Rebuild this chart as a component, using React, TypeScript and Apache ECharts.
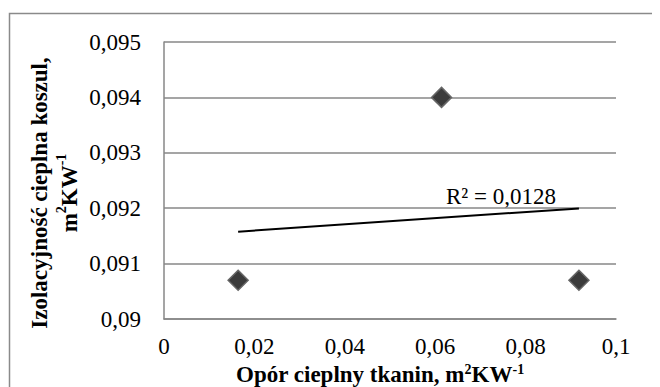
import React, { useEffect, useRef } from "react";
import * as echarts from "echarts";

const xValues = [0.0164, 0.0614, 0.0918];
const yValues = [0.0907, 0.094, 0.0907];
const r2Label = "R² = 0,0128";
const xTitle = "Opór cieplny tkanin, m{sup|2}KW{sup|-1}";
const yTitle = "Izolacyjność cieplna koszul,\nm{sup|2}KW{sup|-1}";

const FONT = "Liberation Serif";

function fmt(v: number): string {
  return String(Number(v.toFixed(4))).replace(".", ",");
}

function trend(xs: number[], ys: number[]): number[][] {
  const n = xs.length;
  const mx = xs.reduce((a, b) => a + b, 0) / n;
  const my = ys.reduce((a, b) => a + b, 0) / n;
  let sxy = 0;
  let sxx = 0;
  for (let i = 0; i < n; i++) {
    sxy += (xs[i] - mx) * (ys[i] - my);
    sxx += (xs[i] - mx) * (xs[i] - mx);
  }
  const b = sxy / sxx;
  const a = my - b * mx;
  const x0 = Math.min(...xs);
  const x1 = Math.max(...xs);
  return [
    [x0, a + b * x0],
    [x1, a + b * x1],
  ];
}

export default function App() {
  const ref = useRef<HTMLDivElement>(null);
  useEffect(() => {
    if (!ref.current) return;
    const chart = echarts.init(ref.current, undefined, { renderer: "svg" });
    const supStyle = {
      fontSize: 14,
      fontWeight: "bold" as const,
      fontFamily: FONT,
      color: "#000",
      verticalAlign: "top" as const,
      lineHeight: 14,
    };
    const gridColor = "#878787";
    const tickLabel = {
      color: "#000",
      fontFamily: FONT,
      fontSize: 23,
      fontWeight: "normal" as const,
      formatter: (v: number) => fmt(v),
    };
    chart.setOption({
      animation: false,
      textStyle: { fontFamily: FONT },
      grid: {
        left: 156,
        top: 34,
        width: 452,
        height: 277,
        containLabel: false,
        outerBoundsMode: "none",
      },
      xAxis: {
        type: "value",
        min: 0,
        max: 0.1,
        interval: 0.02,
        axisLine: { show: true, lineStyle: { color: gridColor, width: 1.5 } },
        axisTick: { show: false },
        splitLine: { show: false },
        axisLabel: { ...tickLabel, margin: 16 },
        name: xTitle,
        nameLocation: "middle",
        nameGap: 38,
        nameTextStyle: {
          fontFamily: FONT,
          fontWeight: "bold",
          fontSize: 23,
          color: "#000",
          padding: [0, 20, 0, 0],
          rich: { sup: supStyle },
        },
      },
      yAxis: {
        type: "value",
        min: 0.09,
        max: 0.095,
        interval: 0.001,
        axisLine: { show: true, lineStyle: { color: gridColor, width: 1.5 } },
        axisTick: { show: false },
        splitLine: { show: true, lineStyle: { color: gridColor, width: 1.5 } },
        axisLabel: { ...tickLabel, margin: 23 },
      },
      series: [
        {
          type: "line",
          data: trend(xValues, yValues),
          showSymbol: false,
          symbol: "none",
          lineStyle: { color: "#000", width: 2 },
          z: 2,
        },
        {
          type: "scatter",
          data: xValues.map((x, i) => [x, yValues[i]]),
          symbol: "diamond",
          symbolSize: 20,
          itemStyle: {
            color: "#3b3b3b",
            borderColor: "#666666",
            borderWidth: 1.5,
            opacity: 1,
          },
          z: 3,
        },
      ],
      graphic: [
        {
          type: "rect",
          silent: true,
          shape: { x: 1.5, y: 5.5, width: 800, height: 600 },
          style: { fill: "none", stroke: "#8a8a8a", lineWidth: 1.5 },
        },
        {
          type: "text",
          silent: true,
          x: 46,
          y: 185,
          rotation: Math.PI / 2,
          style: {
            text: yTitle,
            fontFamily: FONT,
            fontWeight: "bold",
            fontSize: 23,
            lineHeight: 30,
            fill: "#000",
            align: "center",
            verticalAlign: "middle",
            rich: {
              sup: {
                fontSize: 14,
                fontWeight: "bold",
                fontFamily: FONT,
                fill: "#000",
                verticalAlign: "top",
                lineHeight: 14,
              },
            },
          },
        },
        {
          type: "text",
          silent: true,
          x: 493,
          y: 188,
          style: {
            text: r2Label,
            fontFamily: FONT,
            fontSize: 23,
            fill: "#000",
            align: "center",
            verticalAlign: "middle",
          },
        },
      ],
    });
    return () => chart.dispose();
  }, []);
  return <div ref={ref} style={{ width: 652, height: 379 }} />;
}
